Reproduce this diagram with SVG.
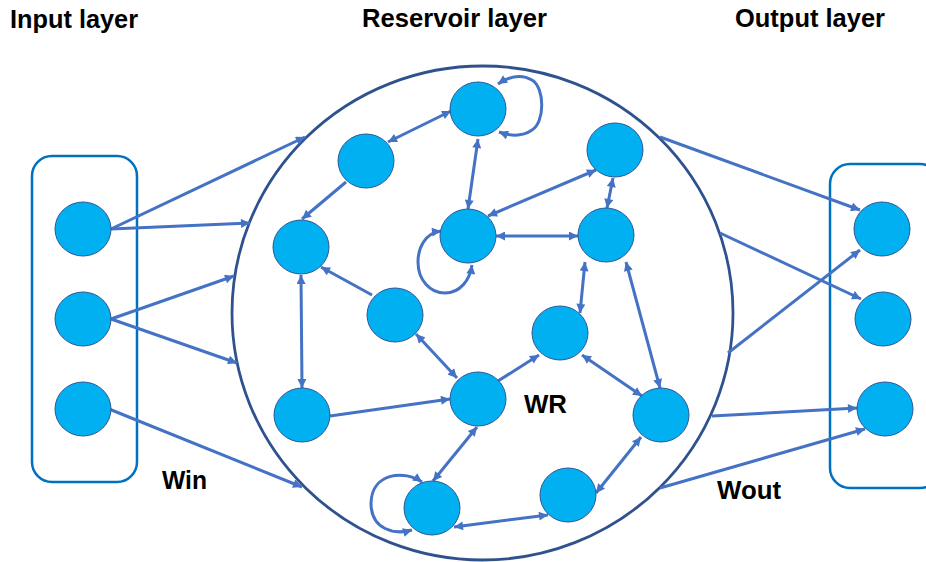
<svg xmlns="http://www.w3.org/2000/svg" width="926" height="562" viewBox="0 0 926 562">
<style>
.lbl{font-family:"Liberation Sans",Arial,sans-serif;font-weight:bold;font-size:25px;fill:#000}
.node{fill:#00B0F0;stroke:#2F5597;stroke-width:1}
.box{fill:none;stroke:#0070C0;stroke-width:2.5}
.edge{fill:none;stroke:#4472C4;stroke-width:3}
.end{marker-end:url(#ah)}
.both{marker-start:url(#ah);marker-end:url(#ah)}
</style>
<defs>
<marker id="ah" viewBox="0 0 10 10" refX="10" refY="5" markerWidth="10" markerHeight="9" markerUnits="userSpaceOnUse" orient="auto-start-reverse">
<path d="M0,0 L10,5 L0,10 z" fill="#4472C4"/>
</marker>
</defs>
<rect width="926" height="562" fill="#fff"/>
<g id="reservoir-boundary"><ellipse cx="482.5" cy="313" rx="250.5" ry="247" fill="none" stroke="#2F528F" stroke-width="2.8"/></g>
<g id="input-box"><rect class="box" x="32" y="156" width="105" height="326" rx="20"/></g>
<g id="output-box"><rect class="box" x="830" y="164" width="110" height="324" rx="20"/></g>
<g id="connectors">
<path class="edge end" d="M111,229 L305,137"/>
<path class="edge end" d="M111,229 L250,223"/>
<path class="edge end" d="M111,319 L234,276"/>
<path class="edge end" d="M111,319 L237,363"/>
<path class="edge end" d="M109,409 L302,487"/>
<path class="edge end" d="M660,137 L860,210"/>
<path class="edge end" d="M720,233 L861,299"/>
<path class="edge end" d="M728,353 L860,250"/>
<path class="edge end" d="M712,416 L857,408"/>
<path class="edge end" d="M660,488 L865,429"/>
<path class="edge both" d="M388,142 L451,111"/>
<path class="edge both" d="M478,139 L468,209"/>
<path class="edge end" d="M346,182 L302,219"/>
<path class="edge both" d="M488,216 L596,170"/>
<path class="edge both" d="M496,236 L578,236"/>
<path class="edge both" d="M613,178 L607,208"/>
<path class="edge both" d="M585,262 L580,313"/>
<path class="edge both" d="M626,262 L660,388"/>
<path class="edge end" d="M372,295 L321,267"/>
<path class="edge both" d="M301,275 L302,388"/>
<path class="edge both" d="M416,334 L457,378"/>
<path class="edge end" d="M330,416 L450,399"/>
<path class="edge end" d="M498,381 L539,355"/>
<path class="edge both" d="M582,355 L642,396"/>
<path class="edge both" d="M477,427 L433,481"/>
<path class="edge both" d="M454,527 L548,515"/>
<path class="edge both" d="M596,493 L641,437"/>
<path class="edge both" d="M498,84 C510,76 522,74 532,80 C545,88 545,122 532,130 C522,137 510,136 499,132"/>
<path class="edge both" d="M441,231 C425,233 418,248 418,262 C418,280 430,293 445,293 C460,293 470,280 472,265"/>
<path class="edge both" d="M422,482 C405,470 372,472 371,503 C371,530 395,535 412,530"/>
</g>
<g id="in1"><ellipse class="node" cx="83" cy="229" rx="28" ry="27"/></g>
<g id="in2"><ellipse class="node" cx="83" cy="319" rx="28" ry="27"/></g>
<g id="in3"><ellipse class="node" cx="83" cy="409" rx="28" ry="27"/></g>
<g id="out1"><ellipse class="node" cx="882" cy="229" rx="28" ry="27"/></g>
<g id="out2"><ellipse class="node" cx="883" cy="319" rx="28" ry="27"/></g>
<g id="out3"><ellipse class="node" cx="885" cy="409" rx="28" ry="27"/></g>
<g id="rA"><ellipse class="node" cx="478" cy="109" rx="28" ry="27"/></g>
<g id="rB"><ellipse class="node" cx="366" cy="161" rx="28" ry="27"/></g>
<g id="rC"><ellipse class="node" cx="301" cy="247" rx="28" ry="27"/></g>
<g id="rD"><ellipse class="node" cx="468" cy="236" rx="28" ry="27"/></g>
<g id="rE"><ellipse class="node" cx="395" cy="315" rx="28" ry="27"/></g>
<g id="rF"><ellipse class="node" cx="615" cy="150" rx="28" ry="27"/></g>
<g id="rG"><ellipse class="node" cx="606" cy="235" rx="28" ry="27"/></g>
<g id="rH"><ellipse class="node" cx="560" cy="333" rx="28" ry="27"/></g>
<g id="rI"><ellipse class="node" cx="302" cy="415" rx="28" ry="27"/></g>
<g id="rJ"><ellipse class="node" cx="478" cy="399" rx="28" ry="27"/></g>
<g id="rK"><ellipse class="node" cx="661" cy="415" rx="28" ry="27"/></g>
<g id="rL"><ellipse class="node" cx="432" cy="508" rx="28" ry="27"/></g>
<g id="rM"><ellipse class="node" cx="568" cy="495" rx="28" ry="27"/></g>
<g id="labels">
<text class="lbl" x="10" y="28" textLength="128" lengthAdjust="spacingAndGlyphs">Input layer</text>
<text class="lbl" x="362" y="27" textLength="185" lengthAdjust="spacingAndGlyphs">Reservoir layer</text>
<text class="lbl" x="735" y="27" textLength="150" lengthAdjust="spacingAndGlyphs">Output layer</text>
<text class="lbl" x="162" y="489" textLength="45" lengthAdjust="spacingAndGlyphs">Win</text>
<text class="lbl" x="524" y="413" textLength="43" lengthAdjust="spacingAndGlyphs">WR</text>
<text class="lbl" x="717" y="499" textLength="64" lengthAdjust="spacingAndGlyphs">Wout</text>
</g>
</svg>
